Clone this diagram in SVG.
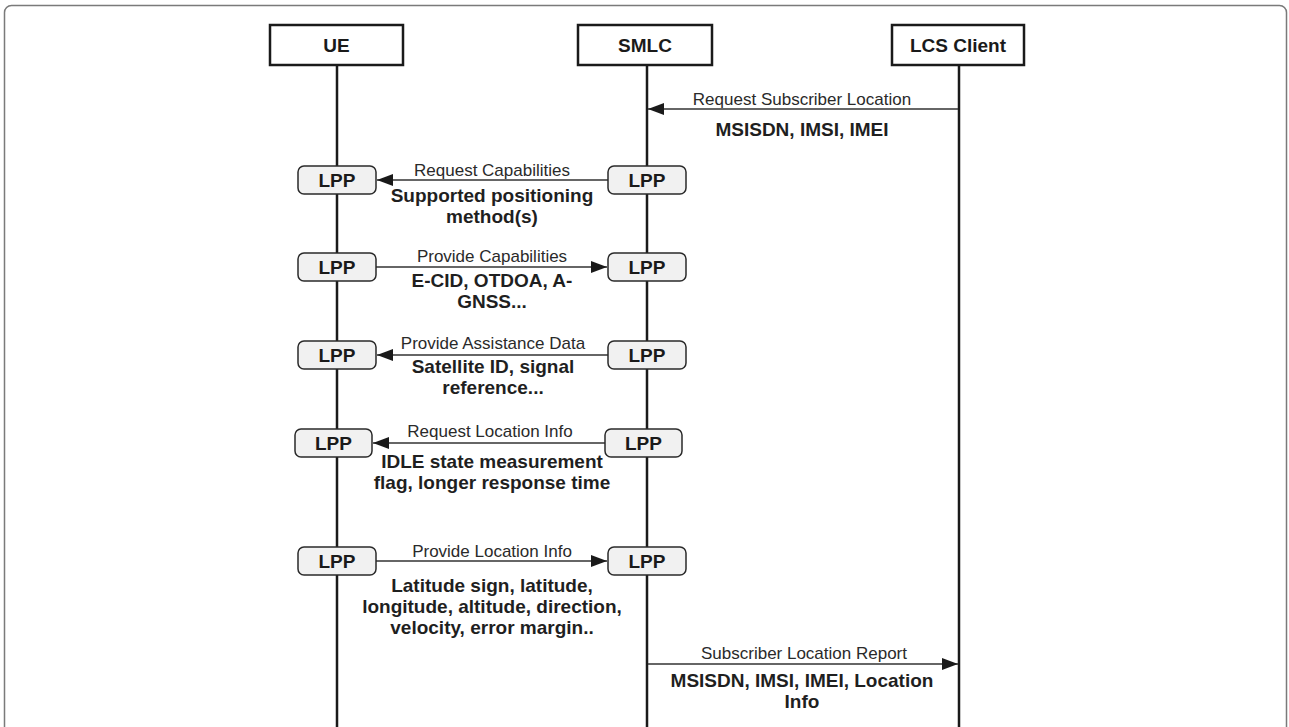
<svg xmlns="http://www.w3.org/2000/svg" width="1289" height="727" viewBox="0 0 1289 727">
  <style>
    .frame { fill: #ffffff; stroke: #7a7a7a; stroke-width: 1.5; }
    .head { fill: #ffffff; stroke: #1a1a1a; stroke-width: 2.5; }
    .head-text { font-family: "Liberation Sans", Arial, sans-serif; font-weight: bold; font-size: 19px; fill: #1a1a1a; text-anchor: middle; }
    .life { stroke: #1a1a1a; stroke-width: 2.5; fill: none; }
    .lpp { fill: #f1f1f1; stroke: #2a2a2a; stroke-width: 1.5; }
    .lpp-text { font-family: "Liberation Sans", Arial, sans-serif; font-weight: bold; font-size: 19px; fill: #1a1a1a; text-anchor: middle; }
    .msg { stroke: #333333; stroke-width: 1.6; fill: none; }
    .label { font-family: "Liberation Sans", Arial, sans-serif; font-size: 17px; fill: #2a2a2a; text-anchor: middle; }
    .info { font-family: "Liberation Sans", Arial, sans-serif; font-weight: bold; font-size: 19px; fill: #1f1f1f; text-anchor: middle; }
  </style>
  <defs>
    <marker id="arrow" viewBox="0 0 16 12" refX="16" refY="6" markerWidth="16" markerHeight="12" markerUnits="userSpaceOnUse" orient="auto">
      <path d="M0,0 L16,6 L0,12 Z" fill="#1a1a1a"/>
    </marker>
  </defs>

  <rect class="frame" x="4.5" y="5.5" width="1282" height="760" rx="7"/>

  <!-- lifelines -->
  <g id="lifelines">
    <line class="life" x1="337" y1="65" x2="337" y2="727"/>
    <line class="life" x1="647" y1="65" x2="647" y2="727"/>
    <line class="life" x1="959" y1="65" x2="959" y2="727"/>
  </g>

  <!-- participants -->
  <g id="ue">
    <rect class="head" x="270" y="25" width="133" height="40"/>
    <text class="head-text" x="336.5" y="52">UE</text>
  </g>
  <g id="smlc">
    <rect class="head" x="578" y="25" width="134" height="40"/>
    <text class="head-text" x="645" y="52">SMLC</text>
  </g>
  <g id="lcs-client">
    <rect class="head" x="892" y="25" width="132" height="40"/>
    <text class="head-text" x="958" y="52">LCS Client</text>
  </g>

  <!-- connectors -->
  <g id="connectors">
    <line class="msg" x1="958" y1="109" x2="648" y2="109" marker-end="url(#arrow)"/>
    <line class="msg" x1="608" y1="180" x2="377" y2="180" marker-end="url(#arrow)"/>
    <line class="msg" x1="376" y1="267" x2="607" y2="267" marker-end="url(#arrow)"/>
    <line class="msg" x1="608" y1="355" x2="377" y2="355" marker-end="url(#arrow)"/>
    <line class="msg" x1="605" y1="443" x2="373" y2="443" marker-end="url(#arrow)"/>
    <line class="msg" x1="376" y1="561" x2="607" y2="561" marker-end="url(#arrow)"/>
    <line class="msg" x1="648" y1="664" x2="958" y2="664" marker-end="url(#arrow)"/>
  </g>

  <!-- LPP endpoints -->
  <g id="lpp-ue-1"><rect class="lpp" x="298" y="166" width="78" height="28" rx="6"/><text class="lpp-text" x="337" y="187">LPP</text></g>
  <g id="lpp-smlc-1"><rect class="lpp" x="608" y="166" width="78" height="28" rx="6"/><text class="lpp-text" x="647" y="187">LPP</text></g>
  <g id="lpp-ue-2"><rect class="lpp" x="298" y="253" width="78" height="28" rx="6"/><text class="lpp-text" x="337" y="274">LPP</text></g>
  <g id="lpp-smlc-2"><rect class="lpp" x="608" y="253" width="78" height="28" rx="6"/><text class="lpp-text" x="647" y="274">LPP</text></g>
  <g id="lpp-ue-3"><rect class="lpp" x="298" y="341" width="78" height="28" rx="6"/><text class="lpp-text" x="337" y="362">LPP</text></g>
  <g id="lpp-smlc-3"><rect class="lpp" x="608" y="341" width="78" height="28" rx="6"/><text class="lpp-text" x="647" y="362">LPP</text></g>
  <g id="lpp-ue-4"><rect class="lpp" x="295" y="429" width="77" height="28" rx="6"/><text class="lpp-text" x="333.5" y="450">LPP</text></g>
  <g id="lpp-smlc-4"><rect class="lpp" x="605" y="429" width="77" height="28" rx="6"/><text class="lpp-text" x="643.5" y="450">LPP</text></g>
  <g id="lpp-ue-5"><rect class="lpp" x="298" y="547" width="78" height="28" rx="6"/><text class="lpp-text" x="337" y="568">LPP</text></g>
  <g id="lpp-smlc-5"><rect class="lpp" x="608" y="547" width="78" height="28" rx="6"/><text class="lpp-text" x="647" y="568">LPP</text></g>

  <!-- message labels -->
  <g id="labels">
    <text class="label" x="802" y="105">Request Subscriber Location</text>
    <text class="info" x="802" y="136">MSISDN, IMSI, IMEI</text>

    <text class="label" x="492" y="176">Request Capabilities</text>
    <text class="info" x="492" y="202">Supported positioning</text>
    <text class="info" x="492" y="223">method(s)</text>

    <text class="label" x="492" y="262">Provide Capabilities</text>
    <text class="info" x="492" y="287">E-CID, OTDOA, A-</text>
    <text class="info" x="492" y="308">GNSS...</text>

    <text class="label" x="493" y="349">Provide Assistance Data</text>
    <text class="info" x="493" y="373">Satellite ID, signal</text>
    <text class="info" x="493" y="394">reference...</text>

    <text class="label" x="490" y="437">Request Location Info</text>
    <text class="info" x="492" y="468">IDLE state measurement</text>
    <text class="info" x="492" y="489">flag, longer response time</text>

    <text class="label" x="492" y="557">Provide Location Info</text>
    <text class="info" x="492" y="592">Latitude sign, latitude,</text>
    <text class="info" x="492" y="613">longitude, altitude, direction,</text>
    <text class="info" x="492" y="634">velocity, error margin..</text>

    <text class="label" x="804" y="659">Subscriber Location Report</text>
    <text class="info" x="802" y="687">MSISDN, IMSI, IMEI, Location</text>
    <text class="info" x="802" y="708">Info</text>
  </g>
</svg>
